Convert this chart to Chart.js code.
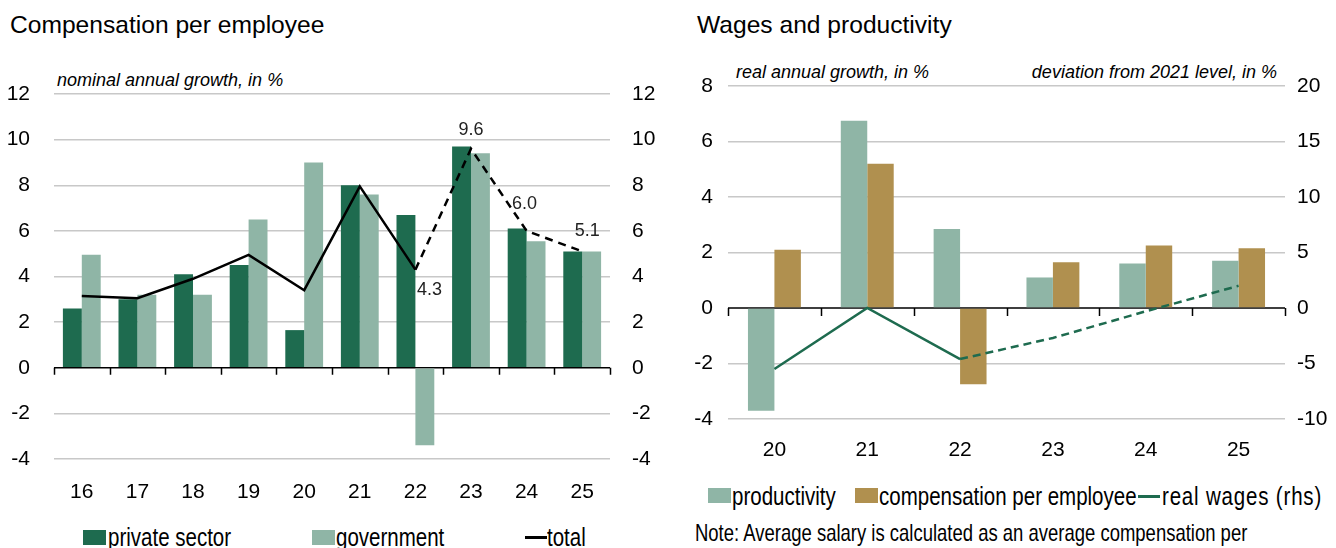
<!DOCTYPE html>
<html>
<head>
<meta charset="utf-8">
<script src="https://cdn.jsdelivr.net/npm/chart.js@4.4.1/dist/chart.umd.min.js"></script>
<style>
    body { margin: 0; background: #fff; width: 1336px; height: 548px; overflow: hidden; position: relative; font-family: "Liberation Sans", Arial, sans-serif; color: #000; }
    .abs { position: absolute; white-space: nowrap; }
    .title { font-size: 24.6px; line-height: 26px; }
    .sub { font-style: italic; font-size: 18px; line-height: 20px; }
    .txt { font-size: 25px; line-height: 28px; transform: scaleX(0.82); transform-origin: 0 50%; }
    .note { font-size: 24px; transform: scaleX(0.77); }
    .box { position: absolute; width: 23px; height: 15px; }
    .ln { position: absolute; width: 22px; height: 3px; }
    canvas { position: absolute; top: 0; }
</style>
</head>
<body>

<div class="abs title" style="left:10px; top:12px;">Compensation per employee</div>
<div class="abs title" style="left:697px; top:12px;">Wages and productivity</div>

<div class="abs sub" style="left:57px; top:70px;">nominal annual growth, in %</div>
<div class="abs sub" style="left:736px; top:62px;">real annual growth, in %</div>
<div class="abs sub" style="right:59px; top:62px;">deviation from 2021 level, in %</div>

<canvas id="compChart" width="680" height="520" style="left:0;"></canvas>
<canvas id="wagesChart" width="656" height="470" style="left:680px;"></canvas>

<!-- left legend -->
<span class="box" style="left:83px; top:530px; background:#1E6B4F"></span>
<div class="abs txt" style="left:108px; top:523px;">private sector</div>
<span class="box" style="left:312px; top:530px; background:#8FB5A6"></span>
<div class="abs txt" style="left:336px; top:523px;">government</div>
<span class="ln" style="left:525px; top:536px; background:#000"></span>
<div class="abs txt" style="left:547px; top:523px;">total</div>

<!-- right legend -->
<span class="box" style="left:708px; top:488px; background:#8FB5A6"></span>
<div class="abs txt" style="left:732px; top:482px;">productivity</div>
<span class="box" style="left:855px; top:488px; background:#B0904F"></span>
<div class="abs txt" style="left:879px; top:482px;">compensation per employee</div>
<span class="ln" style="left:1138px; top:495px; background:#1E6B4F"></span>
<div class="abs txt" style="left:1162px; top:482px; letter-spacing:1px;">real wages (rhs)</div>

<div class="abs txt note" style="left:695px; top:519px;">Note: Average salary is calculated as an average compensation per</div>

<script>
// Left chart data
const years = ['16', '17', '18', '19', '20', '21', '22', '23', '24', '25'];
const privateSector = [2.6, 3.0, 4.1, 4.5, 1.65, 8.0, 6.7, 9.7, 6.1, 5.1];
const government = [4.95, 3.2, 3.2, 6.5, 9.0, 7.6, -3.4, 9.4, 5.55, 5.1];
const total = [3.15, 3.05, 3.9, 4.95, 3.4, 7.95, 4.3, 9.6, 6.0, 5.1];
const compTicks = [-4, -2, 0, 2, 4, 6, 8, 10, 12];

// Right chart data
const wageYears = ['20', '21', '22', '23', '24', '25'];
const productivity = [-3.7, 6.75, 2.85, 1.1, 1.6, 1.7];
const compensation = [2.1, 5.2, -2.75, 1.65, 2.25, 2.15];
const realWages = [-5.5, 0, -4.6, -2.7, -0.3, 2.0];
const wageTicksL = [-4, -2, 0, 2, 4, 6, 8];
const wageTicksR = [-10, -5, 0, 5, 10, 15, 20];

const DARK = '#1E6B4F';
const LIGHT = '#8FB5A6';
const GOLD = '#B0904F';
const GRID = '#C8C8C8';
const tickFont = { family: '"Liberation Sans", Arial, sans-serif', size: 21 };

// draws the black zero line with small category tick marks
const zeroAxisPlugin = {
    id: 'zeroAxis',
    beforeDatasetsDraw(chart, args, opts) {
        const x = chart.scales.x;
        const y0 = chart.scales.y.getPixelForValue(0);
        const ctx = chart.ctx;
        const n = chart.data.labels.length;
        ctx.save();
        ctx.strokeStyle = '#000';
        ctx.lineWidth = 1.5;
        ctx.beginPath();
        ctx.moveTo(x.left, y0);
        ctx.lineTo(x.right, y0);
        for (let i = 0; i <= n; i++) {
            const px = Math.round(x.left + i * x.width / n) + 0.5;
            ctx.moveTo(px, y0);
            ctx.lineTo(px, y0 + opts.len);
        }
        ctx.stroke();
        ctx.restore();
    }
};

// value labels next to selected line points
const pointLabelPlugin = {
    id: 'pointLabels',
    afterDatasetsDraw(chart, args, opts) {
        if (!opts.items) return;
        const ctx = chart.ctx;
        const meta = chart.getDatasetMeta(opts.dataset);
        const values = chart.data.datasets[opts.dataset].data;
        ctx.save();
        ctx.font = '18px "Liberation Sans", Arial, sans-serif';
        ctx.fillStyle = '#222';
        ctx.textAlign = 'center';
        ctx.textBaseline = 'middle';
        opts.items.forEach(item => {
            const pt = meta.data[item.index];
            ctx.fillText(values[item.index].toFixed(1), pt.x + item.dx, pt.y + item.dy);
        });
        ctx.restore();
    }
};

function gridColor(c) {
    return c.tick.value === 0 ? 'rgba(0,0,0,0)' : GRID;
}

new Chart(document.getElementById('compChart'), {
    type: 'bar',
    data: {
        labels: years,
        datasets: [
            {
                type: 'line',
                label: 'total',
                data: total,
                borderColor: '#000',
                borderWidth: 2.5,
                pointRadius: 0,
                tension: 0,
                segment: {
                    borderDash: c => c.p0DataIndex >= 6 ? [8, 6] : undefined
                },
                order: 0
            },
            {
                label: 'private sector',
                data: privateSector,
                backgroundColor: DARK,
                categoryPercentage: 0.68,
                barPercentage: 1,
                order: 1
            },
            {
                label: 'government',
                data: government,
                backgroundColor: LIGHT,
                categoryPercentage: 0.68,
                barPercentage: 1,
                order: 1
            }
        ]
    },
    options: {
        responsive: false,
        animation: false,
        layout: { padding: { top: 94, left: 0, right: 0, bottom: 0 } },
        plugins: {
            legend: { display: false },
            tooltip: { enabled: false },
            zeroAxis: { len: 7 },
            pointLabels: {
                dataset: 0,
                items: [
                    { index: 6, dx: 14, dy: 20 },
                    { index: 7, dx: 0, dy: -19 },
                    { index: 8, dx: -2, dy: -27 },
                    { index: 9, dx: 5, dy: -20 }
                ]
            }
        },
        scales: {
            x: {
                grid: { display: false },
                border: { display: false },
                ticks: { font: tickFont, color: '#000', padding: 13 },
                afterFit: s => { s.height = 61; }
            },
            y: {
                position: 'left',
                min: -4, max: 12,
                afterBuildTicks: s => { s.ticks = compTicks.map(v => ({ value: v })); },
                grid: { color: gridColor, lineWidth: 1.5, drawTicks: false },
                border: { display: false },
                ticks: { font: tickFont, color: '#000', padding: 24 },
                afterFit: s => { s.width = 54; }
            },
            y2: {
                position: 'right',
                min: -4, max: 12,
                afterBuildTicks: s => { s.ticks = compTicks.map(v => ({ value: v })); },
                grid: { display: false, drawTicks: false },
                border: { display: false },
                ticks: { font: tickFont, color: '#000', padding: 22 },
                afterFit: s => { s.width = 70; }
            }
        }
    },
    plugins: [zeroAxisPlugin, pointLabelPlugin]
});

new Chart(document.getElementById('wagesChart'), {
    type: 'bar',
    data: {
        labels: wageYears,
        datasets: [
            {
                type: 'line',
                label: 'real wages (rhs)',
                data: realWages,
                yAxisID: 'y2',
                borderColor: DARK,
                borderWidth: 2.5,
                pointRadius: 0,
                tension: 0,
                segment: {
                    borderDash: c => c.p0DataIndex >= 2 ? [8, 5] : undefined
                },
                order: 0
            },
            {
                label: 'productivity',
                data: productivity,
                backgroundColor: LIGHT,
                categoryPercentage: 0.57,
                barPercentage: 1,
                order: 1
            },
            {
                label: 'compensation per employee',
                data: compensation,
                backgroundColor: GOLD,
                categoryPercentage: 0.57,
                barPercentage: 1,
                order: 1
            }
        ]
    },
    options: {
        responsive: false,
        animation: false,
        layout: { padding: { top: 86, left: 0, right: 0, bottom: 0 } },
        plugins: {
            legend: { display: false },
            tooltip: { enabled: false },
            zeroAxis: { len: 8 }
        },
        scales: {
            x: {
                grid: { display: false },
                border: { display: false },
                ticks: { font: tickFont, color: '#000', padding: 11 },
                afterFit: s => { s.height = 51; }
            },
            y: {
                position: 'left',
                min: -4, max: 8,
                afterBuildTicks: s => { s.ticks = wageTicksL.map(v => ({ value: v })); },
                grid: { color: gridColor, lineWidth: 1.5, drawTicks: false },
                border: { display: false },
                ticks: { font: tickFont, color: '#000', padding: 15 },
                afterFit: s => { s.width = 48; }
            },
            y2: {
                position: 'right',
                min: -10, max: 20,
                afterBuildTicks: s => { s.ticks = wageTicksR.map(v => ({ value: v })); },
                grid: { display: false, drawTicks: false },
                border: { display: false },
                ticks: { font: tickFont, color: '#000', padding: 12 },
                afterFit: s => { s.width = 51; }
            }
        }
    },
    plugins: [zeroAxisPlugin]
});
</script>
</body>
</html>
